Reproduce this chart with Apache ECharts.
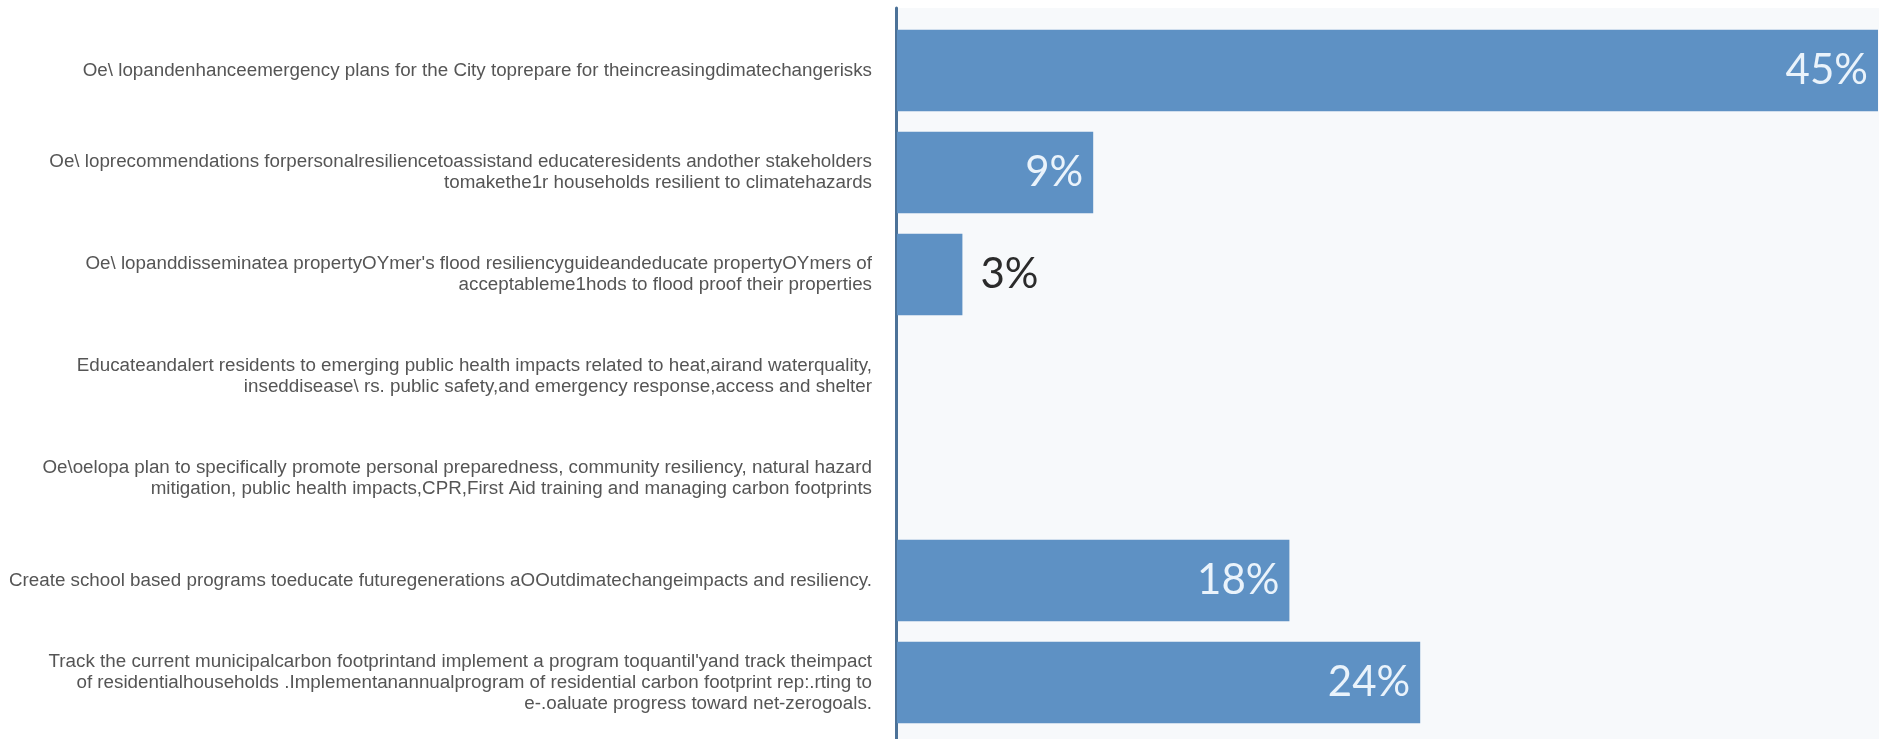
<!DOCTYPE html>
<html>
<head>
<meta charset="utf-8">
<script src="https://cdn.jsdelivr.net/npm/echarts@6/dist/echarts.min.js"></script>
<style>
  html, body { margin: 0; padding: 0; background: #ffffff; }
  #chart { width: 1879px; height: 739px; }
</style>
</head>
<body>
<div id="chart"></div>
<script>
// Survey actions, listed top to bottom
const actions = [
  "Oe\\ lopandenhanceemergency plans for the City toprepare for theincreasingdimatechangerisks",
  "Oe\\ loprecommendations forpersonalresiliencetoassistand educateresidents andother stakeholders\ntomakethe1r households resilient to climatehazards",
  "Oe\\ lopanddisseminatea propertyOYmer's flood resiliencyguideandeducate propertyOYmers of\nacceptableme1hods to flood proof their properties",
  "Educateandalert residents to emerging public health impacts related to heat,airand waterquality,\ninseddisease\\ rs. public safety,and emergency response,access and shelter",
  "Oe\\oelopa plan to specifically promote personal preparedness, community resiliency, natural hazard\nmitigation, public health impacts,CPR,First Aid training and managing carbon footprints",
  "Create school based programs toeducate futuregenerations aOOutdimatechangeimpacts and resiliency.",
  "Track the current municipalcarbon footprintand implement a program toquantil'yand track theimpact\nof residentialhouseholds .Implementanannualprogram of residential carbon footprint rep:.rting to\ne-.oaluate progress toward net-zerogoals."
];

// Share of responses (%)
const shares = [45, 9, 3, 0, 0, 18, 24];

const barColor = '#5e91c4';
const axisMax = 45;

// Short bars carry their label outside in dark text; the rest sit inside in light text
const barData = shares.map(v => {
  const inside = v >= 6;
  return {
    value: v,
    label: {
      show: v > 0,
      position: inside ? 'insideRight' : 'right',
      distance: inside ? 10 : 18,
      color: inside ? '#eaf3fb' : '#2b2b2b'
    }
  };
});

const chart = echarts.init(document.getElementById('chart'), null, { renderer: 'canvas' });

chart.setOption({
  backgroundColor: '#ffffff',
  animation: false,
  grid: [
    // plot panel and its baseline
    { left: 896, right: 0, top: 8, bottom: 0, show: true, backgroundColor: '#f7f9fb', borderWidth: 0, outerBoundsMode: 'none' },
    // bars
    { left: 897, right: 1, top: 19.5, bottom: 5.5, outerBoundsMode: 'none' }
  ],
  xAxis: [
    { gridIndex: 0, type: 'value', show: false, min: 0, max: axisMax },
    { gridIndex: 1, type: 'value', show: false, min: 0, max: axisMax }
  ],
  yAxis: [
    {
      gridIndex: 0, type: 'category', data: [''],
      axisLine: { show: true, lineStyle: { color: '#4c7298', width: 3 } },
      axisTick: { show: false }, axisLabel: { show: false }, splitLine: { show: false }
    },
    {
      gridIndex: 1, type: 'category', data: actions, inverse: true,
      axisLine: { show: false }, axisTick: { show: false }, splitLine: { show: false },
      axisLabel: {
        margin: 25,
        color: '#555555',
        fontFamily: 'Liberation Sans, Arial, sans-serif',
        fontSize: 18.8,
        lineHeight: 21,
        align: 'right'
      }
    }
  ],
  series: [
    {
      type: 'bar',
      xAxisIndex: 1,
      yAxisIndex: 1,
      data: barData,
      barCategoryGap: '20%',
      itemStyle: { color: barColor },
      label: {
        formatter: '{c}%',
        fontFamily: 'Lato, Open Sans, sans-serif',
        fontSize: 42,
        fontWeight: 'normal'
      }
    }
  ]
});
</script>
</body>
</html>
